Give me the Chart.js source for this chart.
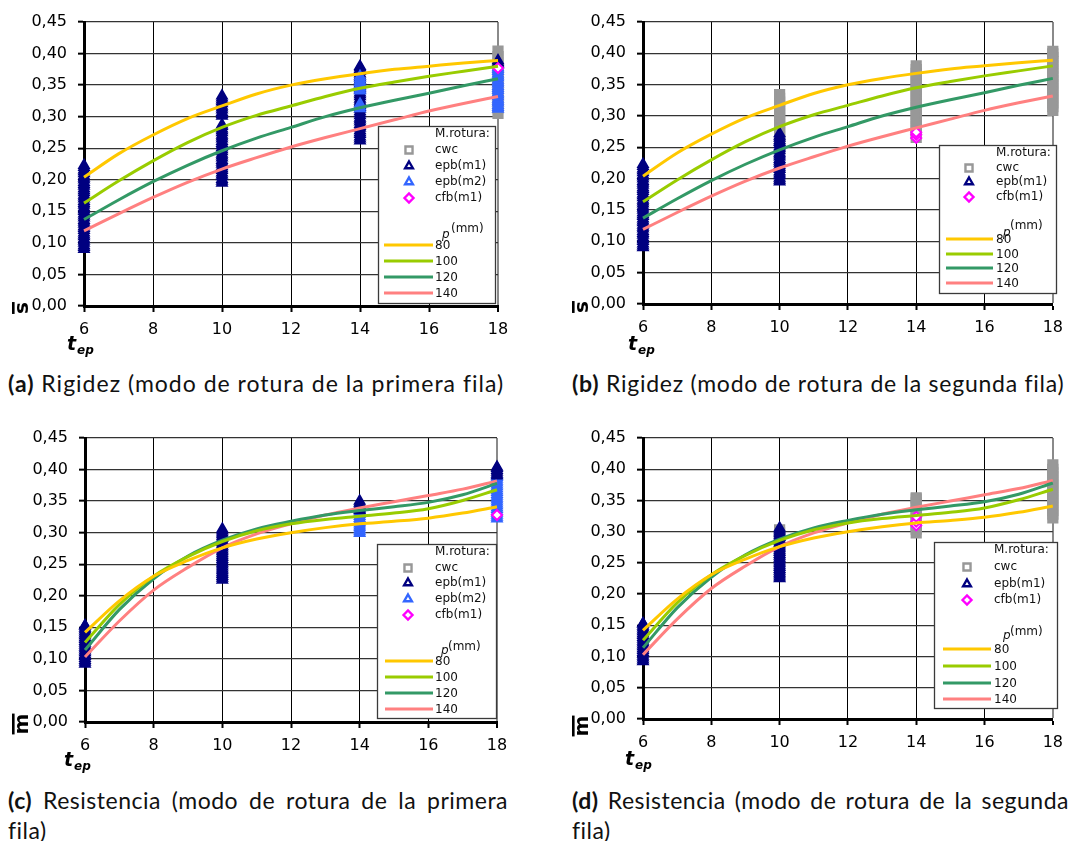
<!DOCTYPE html>
<html>
<head>
<meta charset="utf-8">
<script src="https://cdn.jsdelivr.net/npm/chart.js@4.4.1/dist/chart.umd.min.js"></script>
<style>
  html, body { margin: 0; padding: 0; background: #fff; }
  body { position: relative; width: 1071px; height: 841px; overflow: hidden; }
  canvas { position: absolute; }
  .cap {
    position: absolute; font-family: Lato, "Open Sans", sans-serif; font-size: 23px;
    letter-spacing: 0.5px; line-height: 30px; color: #111; text-align: justify; text-align-last: left;
    font-variant-ligatures: none;
  }
  .cap.one { white-space: nowrap; }
  .cap b { font-weight: 700; }
</style>
</head>
<body>
<canvas id="pa"></canvas>
<canvas id="pb"></canvas>
<canvas id="pc"></canvas>
<canvas id="pd"></canvas>
<div class="cap one" style="left:8px;top:368px;letter-spacing:1px;"><b>(a)</b> Rigidez (modo de rotura de la primera fila)</div>
<div class="cap one" style="left:572px;top:368px;letter-spacing:0.75px;"><b>(b)</b> Rigidez (modo de rotura de la segunda fila)</div>
<div class="cap" style="left:8px;top:785px;width:500px;"><b>(c)</b> Resistencia (modo de rotura de la primera fila)</div>
<div class="cap" style="left:572px;top:785px;width:497px;"><b>(d)</b> Resistencia (modo de rotura de la segunda fila)</div>
<script>
// t_ep values at which the fitted curves are tabulated
const tep = [6, 7, 8, 9, 10, 11, 12, 13, 14, 15, 16, 17, 18];

// Stiffness (s̄) fitted curves, one per spacing p (mm)
const rig80  = [0.204, 0.241, 0.271, 0.297, 0.317, 0.336, 0.350, 0.360, 0.368, 0.375, 0.380, 0.385, 0.389];
const rig100 = [0.163, 0.198, 0.230, 0.259, 0.283, 0.302, 0.317, 0.332, 0.345, 0.355, 0.364, 0.372, 0.380];
const rig120 = [0.137, 0.168, 0.197, 0.223, 0.246, 0.266, 0.283, 0.300, 0.314, 0.326, 0.337, 0.349, 0.360];
const rig140 = [0.119, 0.146, 0.172, 0.196, 0.217, 0.235, 0.252, 0.267, 0.281, 0.295, 0.309, 0.321, 0.332];

// Strength (m̄) fitted curves, one per spacing p (mm)
const res80  = [0.142, 0.192, 0.231, 0.256, 0.276, 0.290, 0.300, 0.308, 0.314, 0.318, 0.323, 0.331, 0.341];
const res100 = [0.126, 0.186, 0.231, 0.262, 0.286, 0.303, 0.314, 0.321, 0.326, 0.331, 0.338, 0.351, 0.368];
const res120 = [0.114, 0.178, 0.227, 0.263, 0.288, 0.306, 0.318, 0.328, 0.335, 0.341, 0.348, 0.360, 0.378];
const res140 = [0.103, 0.160, 0.209, 0.245, 0.276, 0.298, 0.314, 0.328, 0.339, 0.349, 0.359, 0.369, 0.382];

// Observed values per failure mode: [t_ep, [values...]]
// stiffness, t_ep = 6 (epb m1), shared by both stiffness panels
const rigEpb1At6 = [0.090, 0.093, 0.096, 0.100, 0.103, 0.106, 0.110, 0.113, 0.116, 0.120, 0.123, 0.126, 0.130, 0.133,
  0.136, 0.140, 0.143, 0.146, 0.150, 0.153, 0.156, 0.160, 0.163, 0.166, 0.170, 0.173, 0.176, 0.180, 0.183, 0.186,
  0.190, 0.193, 0.196, 0.200, 0.203, 0.206, 0.210, 0.213, 0.216, 0.220, 0.223];
// strength, t_ep = 6 and 10 (epb m1), shared by both strength panels
const resEpb1At6 = [0.092, 0.095, 0.098, 0.101, 0.104, 0.107, 0.110, 0.113, 0.116, 0.119, 0.122, 0.125, 0.128, 0.131,
  0.134, 0.137, 0.140, 0.143, 0.146, 0.149, 0.152, 0.153];
const resEpb1At10 = [0.225, 0.228, 0.231, 0.234, 0.237, 0.240, 0.243, 0.246, 0.249, 0.252, 0.255, 0.258, 0.261, 0.264,
  0.267, 0.270, 0.273, 0.276, 0.279, 0.282, 0.285, 0.288, 0.291, 0.294, 0.297, 0.300, 0.303, 0.306];

// (a) stiffness, first-row failure mode
const aCwc  = [[18, [0.305, 0.314, 0.323, 0.332, 0.341, 0.350, 0.359, 0.368, 0.377, 0.386, 0.395, 0.404]]];
const aEpb1 = [
  [6,  rigEpb1At6],
  [10, [0.195, 0.198, 0.201, 0.205, 0.208, 0.211, 0.215, 0.218, 0.221, 0.225, 0.228, 0.231, 0.235, 0.238, 0.241,
        0.245, 0.248, 0.251, 0.255, 0.258, 0.261, 0.265, 0.268, 0.271, 0.275, 0.278, 0.281, 0.285, 0.287,
        0.301, 0.304, 0.307, 0.311, 0.314, 0.317, 0.321, 0.324, 0.327, 0.330, 0.333]],
  [14, [0.262, 0.265, 0.268, 0.272, 0.275, 0.278, 0.282, 0.285, 0.288, 0.292, 0.295, 0.298, 0.302, 0.305, 0.308,
        0.312, 0.315, 0.318, 0.322, 0.325, 0.328, 0.332, 0.335, 0.338, 0.342, 0.345, 0.348, 0.352, 0.355, 0.358,
        0.362, 0.365, 0.368, 0.372, 0.375, 0.378, 0.380]],
  [18, [0.383, 0.386, 0.389]]
];
const aEpb2 = [
  [14, [0.313, 0.316, 0.320, 0.341, 0.344, 0.347, 0.351, 0.354, 0.357, 0.361, 0.364]],
  [18, [0.312, 0.315, 0.318, 0.322, 0.325, 0.328, 0.332, 0.335, 0.338, 0.342, 0.345, 0.348, 0.352, 0.355, 0.358,
        0.362, 0.365, 0.368, 0.372, 0.375, 0.378, 0.382]]
];
const aCfb1 = [[18, [0.377]]];

// (b) stiffness, second-row failure mode
const bCwc  = [
  [10, [0.262, 0.268, 0.274, 0.280, 0.286, 0.292, 0.298, 0.304, 0.310, 0.316, 0.322, 0.328, 0.334]],
  [14, [0.266, 0.272, 0.278, 0.284, 0.290, 0.296, 0.302, 0.308, 0.314, 0.320, 0.326, 0.332, 0.338, 0.344,
        0.350, 0.356, 0.362, 0.368, 0.374, 0.380]],
  [18, [0.309, 0.315, 0.321, 0.327, 0.333, 0.339, 0.345, 0.351, 0.357, 0.363, 0.369, 0.375, 0.381, 0.387,
        0.393, 0.399, 0.403]]
];
const bEpb1 = [
  [6,  rigEpb1At6],
  [10, [0.195, 0.198, 0.201, 0.205, 0.208, 0.211, 0.215, 0.218, 0.221, 0.225, 0.228, 0.231, 0.235, 0.238, 0.241,
        0.245, 0.248, 0.251, 0.255, 0.258, 0.261, 0.265, 0.268, 0.272]]
];
const bCfb1 = [[14, [0.265, 0.270, 0.274]]];

// (c) strength, first-row failure mode
const cEpb1 = [
  [6,  resEpb1At6],
  [10, resEpb1At10],
  [14, [0.335, 0.338, 0.341, 0.344, 0.347, 0.350]],
  [18, [0.390, 0.393, 0.396, 0.399, 0.402, 0.404]]
];
const cEpb2 = [
  [14, [0.299, 0.302, 0.305, 0.308, 0.311, 0.314, 0.317, 0.320, 0.323, 0.326, 0.329, 0.332, 0.335, 0.338, 0.341, 0.344]],
  [18, [0.322, 0.325, 0.328, 0.331, 0.334, 0.337, 0.340, 0.343, 0.346, 0.349, 0.352, 0.355, 0.358, 0.361, 0.364,
        0.367, 0.370, 0.373, 0.376, 0.379, 0.382, 0.385, 0.388, 0.391]]
];
const cCfb1 = [[18, [0.328]]];

// (d) strength, second-row failure mode
const dCwc  = [
  [10, [0.298, 0.303]],
  [14, [0.298, 0.304, 0.310, 0.316, 0.322, 0.328, 0.334, 0.340, 0.346, 0.352, 0.354]],
  [18, [0.322, 0.328, 0.334, 0.340, 0.346, 0.352, 0.358, 0.364, 0.370, 0.376, 0.382, 0.388, 0.394, 0.400, 0.407]]
];
const dEpb1 = [
  [6,  resEpb1At6],
  [10, resEpb1At10]
];
const dCfb1 = [[14, [0.310, 0.316, 0.324]]];

// Legend labels and tick settings
const modeLabels = ['cwc', 'epb(m1)', 'epb(m2)', 'cfb(m1)'];
const pLabels = ['80', '100', '120', '140'];
const xTicks = { min: 6, max: 18, step: 2 };
const yTicks = { min: 0, max: 0.45, step: 0.05 };

// Styles
const lineColors = ['#ffc800', '#99cc00', '#339966', '#ff8080'];
const modeStyle = {
  'cwc':     { color: '#989898', pointStyle: 'rect',     radius: 6.5, fill: '#989898', legendFill: '#ffffff' },
  'epb(m1)': { color: '#000080', pointStyle: 'triangle', radius: 5.5, fill: '#000080', legendFill: '#ffffff' },
  'epb(m2)': { color: '#3366ff', pointStyle: 'triangle', radius: 5.5, fill: '#3366ff', legendFill: '#ffffff' },
  'cfb(m1)': { color: '#ff00ff', pointStyle: 'rectRot',  radius: 5,   fill: '#ffffff', legendFill: '#ffffff' }
};

function toPoints(groups) {
  const pts = [];
  groups.forEach(([x, vals]) => vals.forEach(v => pts.push({ x: x, y: v })));
  return pts;
}
function curvePoints(vals) {
  return tep.map((t, i) => ({ x: t, y: vals[i] }));
}

function lineSets(curves) {
  return curves.map((vals, i) => ({
    label: pLabels[i], data: curvePoints(vals), showLine: true,
    borderColor: lineColors[i], backgroundColor: lineColors[i], borderWidth: 3,
    pointRadius: 0, cubicInterpolationMode: 'monotone', clip: false
  }));
}
function markerSet(mode, groups) {
  const s = modeStyle[mode];
  return {
    label: mode, data: toPoints(groups), showLine: false,
    pointStyle: s.pointStyle, pointRadius: s.radius, pointBorderWidth: 2,
    borderColor: s.color, pointBorderColor: s.color, pointBackgroundColor: s.fill,
    clip: false
  };
}

// Axis letters, legend box and subscripted axis name drawn over the plot
const overlay = {
  id: 'overlay',
  afterDraw(chart, args, o) {
    const P = o.panel, ctx = chart.ctx;
    ctx.save();
    ctx.translate(-P.x, -P.y);

    // rotated y-axis symbol with overbar
    ctx.save();
    ctx.translate(P.ySym.x, P.ySym.y);
    ctx.rotate(-Math.PI / 2);
    ctx.fillStyle = '#000';
    ctx.font = 'bold ' + P.ySym.size + 'px "DejaVu Sans"';
    ctx.textAlign = 'center';
    ctx.textBaseline = 'alphabetic';
    ctx.fillText(P.ySym.ch, 0, P.ySym.base);
    const w = ctx.measureText(P.ySym.ch).width;
    ctx.fillRect(-w / 2, P.ySym.base - P.ySym.barUp, w, 2.6);
    ctx.restore();

    // t_ep
    ctx.fillStyle = '#000';
    ctx.textAlign = 'left';
    ctx.textBaseline = 'alphabetic';
    ctx.font = 'italic bold 19px "DejaVu Sans"';
    ctx.fillText('t', P.tName.x, P.tName.y);
    ctx.font = 'italic bold 12px "DejaVu Sans"';
    ctx.fillText('ep', P.tName.x + 10, P.tName.y + 4);

    // legend
    const L = P.legend;
    const [x0, y0, x1, y1] = L.box;
    ctx.fillStyle = '#fff';
    ctx.fillRect(x0, y0, x1 - x0, y1 - y0);
    ctx.strokeStyle = '#3a3a3a';
    ctx.lineWidth = 1.3;
    ctx.strokeRect(x0 + 0.5, y0 + 0.5, x1 - x0, y1 - y0);

    ctx.fillStyle = '#111';
    ctx.font = '12px "DejaVu Sans"';
    ctx.textBaseline = 'middle';
    ctx.fillText('M.rotura:', L.textX, L.headY);
    L.modes.forEach((m, i) => {
      const s = modeStyle[m];
      const yy = L.markRows[i];
      ctx.strokeStyle = s.color;
      ctx.fillStyle = s.legendFill;
      ctx.lineWidth = 2.4;
      Chart.helpers.drawPoint(ctx, {
        pointStyle: s.pointStyle,
        radius: s.pointStyle === 'rect' ? 5 : 4.5,
        borderWidth: 2.4, rotation: 0
      }, L.markX, yy);
      ctx.fillStyle = '#111';
      ctx.fillText(m, L.textX, yy);
    });
    ctx.font = 'italic 12px "DejaVu Sans"';
    ctx.fillText('p', L.pX, L.pY);
    ctx.font = '12px "DejaVu Sans"';
    ctx.fillText('(mm)', L.mmX, L.mmY);
    pLabels.forEach((lab, i) => {
      const yy = L.lineRows[i];
      ctx.strokeStyle = lineColors[i];
      ctx.lineWidth = 3;
      ctx.beginPath();
      ctx.moveTo(L.lineX[0], yy);
      ctx.lineTo(L.lineX[1], yy);
      ctx.stroke();
      ctx.fillStyle = '#111';
      ctx.fillText(lab, L.textX, yy + 1);
    });
    ctx.restore();
  }
};

const panels = [
  {
    id: 'pa', x: 0, y: 0, w: 535, h: 362, left: 84, right: 498, top: 22, bottom: 306,
    curves: [rig80, rig100, rig120, rig140],
    marks: [['cfb(m1)', aCfb1], ['epb(m1)', aEpb1.slice(3)], ['epb(m2)', aEpb2], ['epb(m1)', aEpb1.slice(0, 3)], ['cwc', aCwc]],
    ySym: { ch: 's', x: 22, y: 308, size: 20, base: 6, barUp: 16 },
    tName: { x: 67, y: 350 },
    legend: { box: [378, 126, 495, 303], modes: modeLabels, headY: 134, textX: 435, markX: 409,
      markRows: [150, 166, 182, 198], pX: 442, pY: 235, mmX: 451, mmY: 229,
      lineX: [384, 433], lineRows: [245, 261, 277, 293] }
  },
  {
    id: 'pb', x: 535, y: 0, w: 536, h: 362, left: 643, right: 1059, top: 22, bottom: 304,
    curves: [rig80, rig100, rig120, rig140],
    marks: [['cfb(m1)', bCfb1], ['epb(m1)', bEpb1], ['cwc', bCwc]],
    ySym: { ch: 's', x: 582, y: 307, size: 20, base: 6, barUp: 16 },
    tName: { x: 628, y: 350 },
    legend: { box: [939, 145, 1056, 293], modes: ['cwc', 'epb(m1)', 'cfb(m1)'], headY: 153, textX: 996, markX: 969,
      markRows: [168, 182, 197], pX: 1003, pY: 233, mmX: 1010, mmY: 226,
      lineX: [946, 993], lineRows: [239, 254, 268, 283] }
  },
  {
    id: 'pc', x: 0, y: 400, w: 535, h: 380, left: 85, right: 497, top: 438, bottom: 722,
    curves: [res80, res100, res120, res140],
    marks: [['cfb(m1)', cCfb1], ['epb(m1)', cEpb1.slice(2)], ['epb(m2)', cEpb2], ['epb(m1)', cEpb1.slice(0, 2)]],
    ySym: { ch: 'm', x: 22, y: 724, size: 20, base: 6, barUp: 16 },
    tName: { x: 64, y: 766 },
    legend: { box: [377, 544, 496, 718], modes: modeLabels, headY: 552, textX: 435, markX: 408,
      markRows: [568, 583, 599, 615], pX: 441, pY: 651, mmX: 448, mmY: 647,
      lineX: [385, 433], lineRows: [661, 677, 693, 709] }
  },
  {
    id: 'pd', x: 535, y: 400, w: 536, h: 380, left: 643, right: 1058, top: 438, bottom: 719,
    curves: [res80, res100, res120, res140],
    marks: [['cfb(m1)', dCfb1], ['epb(m1)', dEpb1], ['cwc', dCwc]],
    ySym: { ch: 'm', x: 582, y: 726, size: 20, base: 6, barUp: 16 },
    tName: { x: 625, y: 765 },
    legend: { box: [934, 542, 1057, 708], modes: ['cwc', 'epb(m1)', 'cfb(m1)'], headY: 550, textX: 994, markX: 967,
      markRows: [567, 584, 600], pX: 1003, pY: 636, mmX: 1010, mmY: 632,
      lineX: [943, 991], lineRows: [649, 666, 683, 699] }
  }
];

panels.forEach(P => {
  const cv = document.getElementById(P.id);
  cv.width = P.w; cv.height = P.h;
  cv.style.left = P.x + 'px'; cv.style.top = P.y + 'px';
  cv.style.width = P.w + 'px'; cv.style.height = P.h + 'px';

  const datasets = lineSets(P.curves).concat(P.marks.map(([m, g]) => markerSet(m, g)));

  new Chart(cv, {
    type: 'scatter',
    data: { datasets },
    options: {
      responsive: false, animation: false, devicePixelRatio: 1,
      layout: { padding: { top: P.top - P.y, right: P.x + P.w - P.right, left: 0, bottom: 0 } },
      plugins: { legend: { display: false }, tooltip: { enabled: false }, overlay: { panel: P } },
      scales: {
        x: {
          type: 'linear', min: xTicks.min, max: xTicks.max,
          afterFit(s) { s.height = P.y + P.h - P.bottom; },
          ticks: { stepSize: xTicks.step, color: '#000', font: { family: 'DejaVu Sans', size: 16 },
                   padding: 8, maxRotation: 0, autoSkip: false },
          grid: {
            color: c => (c.tick && c.tick.value === xTicks.max) ? '#8a8a8a' : '#000',
            lineWidth: c => (c.tick && c.tick.value === xTicks.max) ? 2 : 1,
            tickColor: '#000', tickLength: 6, tickWidth: 2
          },
          border: { color: '#000', width: 3 }
        },
        y: {
          type: 'linear', min: yTicks.min, max: yTicks.max,
          afterFit(s) { s.width = P.left - P.x; },
          ticks: { stepSize: yTicks.step, color: '#000', font: { family: 'DejaVu Sans', size: 16 },
                   padding: 11, callback: v => v.toFixed(2).replace('.', ',') },
          grid: { color: '#333', lineWidth: 1.3, tickColor: '#000', tickLength: 6, tickWidth: 2 },
          border: { color: '#000', width: 3 }
        }
      }
    },
    plugins: [overlay]
  });
});
</script>
</body>
</html>
